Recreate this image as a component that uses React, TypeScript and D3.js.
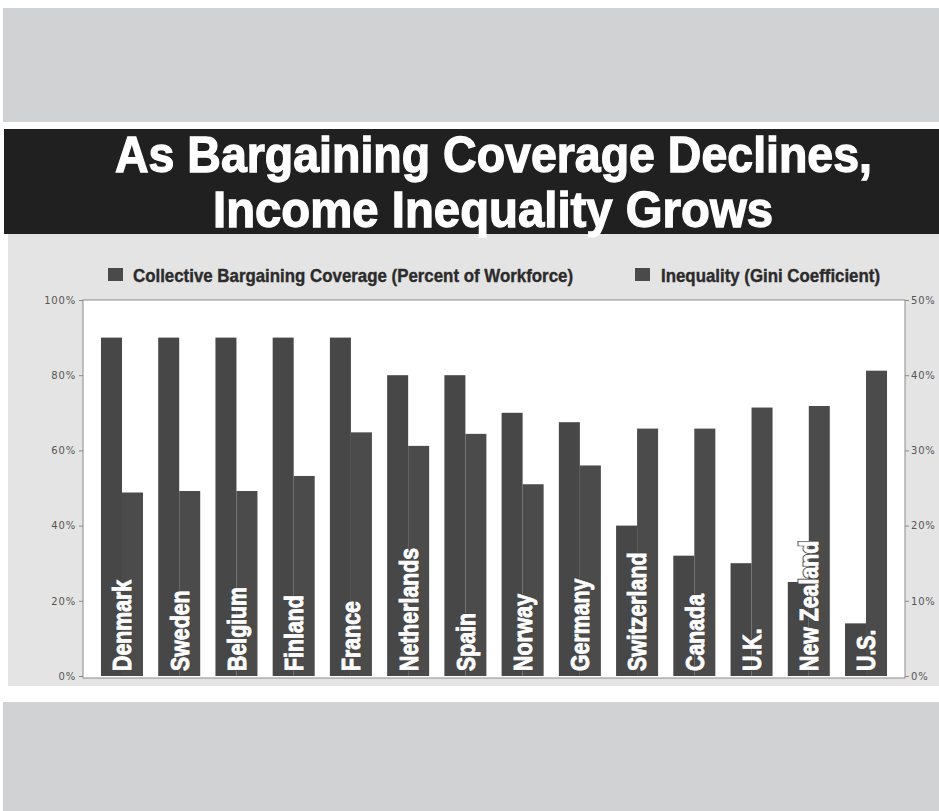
import React, { useEffect, useRef } from "react";
import * as d3 from "d3";

const countries = ["Denmark", "Sweden", "Belgium", "Finland", "France", "Netherlands", "Spain", "Norway", "Germany", "Switzerland", "Canada", "U.K.", "New Zealand", "U.S."];
const coverage = [90, 90, 90, 90, 90, 80, 80, 70, 67.5, 40, 32, 30, 25, 14];
const gini = [24.4, 24.6, 24.6, 26.6, 32.4, 30.6, 32.2, 25.5, 28.0, 32.9, 32.9, 35.7, 35.9, 40.6];
const leftTicks = [0, 20, 40, 60, 80, 100];
const rightTicks = [0, 10, 20, 30, 40, 50];
const titleLines = ["As Bargaining Coverage Declines,", "Income Inequality Grows"];
const legendLabels = ["Collective Bargaining Coverage (Percent of Workforce)", "Inequality (Gini Coefficient)"];

const W = 939;
const H = 811;
const plot = { x0: 83, x1: 905, y0: 300, y1: 678 };

export default function App() {
  const leftRef = useRef<SVGGElement>(null);
  const rightRef = useRef<SVGGElement>(null);

  const x = d3.scaleBand<string>().domain(countries).range([plot.x0, plot.x1]).paddingInner(0.266).paddingOuter(0.314);
  const xi = d3.scaleBand<string>().domain(["cov", "gini"]).range([0, x.bandwidth()]).padding(0);
  const yL = d3.scaleLinear().domain([0, 100]).range([676, plot.y0]);
  const yR = d3.scaleLinear().domain([0, 50]).range([676, plot.y0]);

  useEffect(() => {
    const styleAxis = (g: d3.Selection<SVGGElement, unknown, null, undefined>) => {
      g.select(".domain").remove();
      g.selectAll(".tick line").attr("stroke", "#8a8a8a");
      g.selectAll(".tick text")
        .attr("fill", "#555")
        .style("font-family", "'DejaVu Sans', sans-serif")
        .style("font-size", "10px")
        .style("letter-spacing", "0.8px");
    };
    if (leftRef.current) {
      const g = d3.select(leftRef.current);
      g.call(d3.axisLeft(yL).tickValues(leftTicks).tickFormat((d) => `${d}%`).tickSize(4).tickPadding(3));
      styleAxis(g);
    }
    if (rightRef.current) {
      const g = d3.select(rightRef.current);
      g.call(d3.axisRight(yR).tickValues(rightTicks).tickFormat((d) => `${d}%`).tickSize(4).tickPadding(2));
      styleAxis(g);
    }
  }, []);

  const labelFont = 26;
  const font = "'Liberation Sans', Arial, sans-serif";

  return (
    <svg width={W} height={H} style={{ position: "absolute", left: 0, top: 0, background: "#fff" }}>
      <rect x={3} y={8} width={936} height={114} fill="#d1d2d4" />
      <rect x={4} y={129} width={935} height={105} fill="#202020" />
      <rect x={8} y={234} width={931} height={452} fill="#e4e4e4" />
      <rect x={3} y={702} width={936} height={109} fill="#d1d2d4" />

      <g fill="#fff" stroke="#fff" strokeWidth={1.3} style={{ fontFamily: font, fontWeight: 700 }} fontSize={50}>
        <text x={115} y={172} textLength={757} lengthAdjust="spacingAndGlyphs">{titleLines[0]}</text>
        <text x={213} y={227} textLength={560} lengthAdjust="spacingAndGlyphs">{titleLines[1]}</text>
      </g>

      <g style={{ fontFamily: font, fontWeight: 700 }} fontSize={19} fill="#2b2b2b">
        <rect x={108} y={268} width={15} height={13} fill="#4a4a4a" />
        <text x={133} y={282} textLength={440} lengthAdjust="spacingAndGlyphs" stroke="#2b2b2b" strokeWidth={0.4}>{legendLabels[0]}</text>
        <rect x={635} y={268} width={15} height={13} fill="#4a4a4a" />
        <text x={661} y={282} textLength={219} lengthAdjust="spacingAndGlyphs" stroke="#2b2b2b" strokeWidth={0.4}>{legendLabels[1]}</text>
      </g>

      <rect x={plot.x0} y={plot.y0} width={plot.x1 - plot.x0} height={plot.y1 - plot.y0} fill="#fff" stroke="#8a8a8a" strokeWidth={1} />

      <g>
        {countries.map((c, i) => (
          <g key={c} transform={`translate(${x(c)},0)`}>
            <rect x={xi("cov")} y={yL(coverage[i])} width={xi.bandwidth()} height={yL(0) - yL(coverage[i])} fill="#474747" />
            <rect x={xi("gini")} y={yR(gini[i])} width={xi.bandwidth()} height={yR(0) - yR(gini[i])} fill="#4b4b4b" />
          </g>
        ))}
      </g>

      <g style={{ fontFamily: font, fontWeight: 700 }} fontSize={labelFont}>
        {countries.map((c) => {
          const cx = (x(c) as number) + x.bandwidth() / 2 + labelFont * 0.36;
          const tr = `translate(${cx},671) rotate(-90) scale(0.82,1)`;
          return (
            <g key={c}>
              <text transform={tr} fill="#4a4a4a" stroke="#4a4a4a" strokeWidth={3}>{c}</text>
              <text transform={tr} fill="#fff" stroke="#fff" strokeWidth={0.9}>{c}</text>
            </g>
          );
        })}
      </g>

      <g ref={leftRef} transform={`translate(${plot.x0},0)`} />
      <g ref={rightRef} transform={`translate(${plot.x1},0)`} />
    </svg>
  );
}
